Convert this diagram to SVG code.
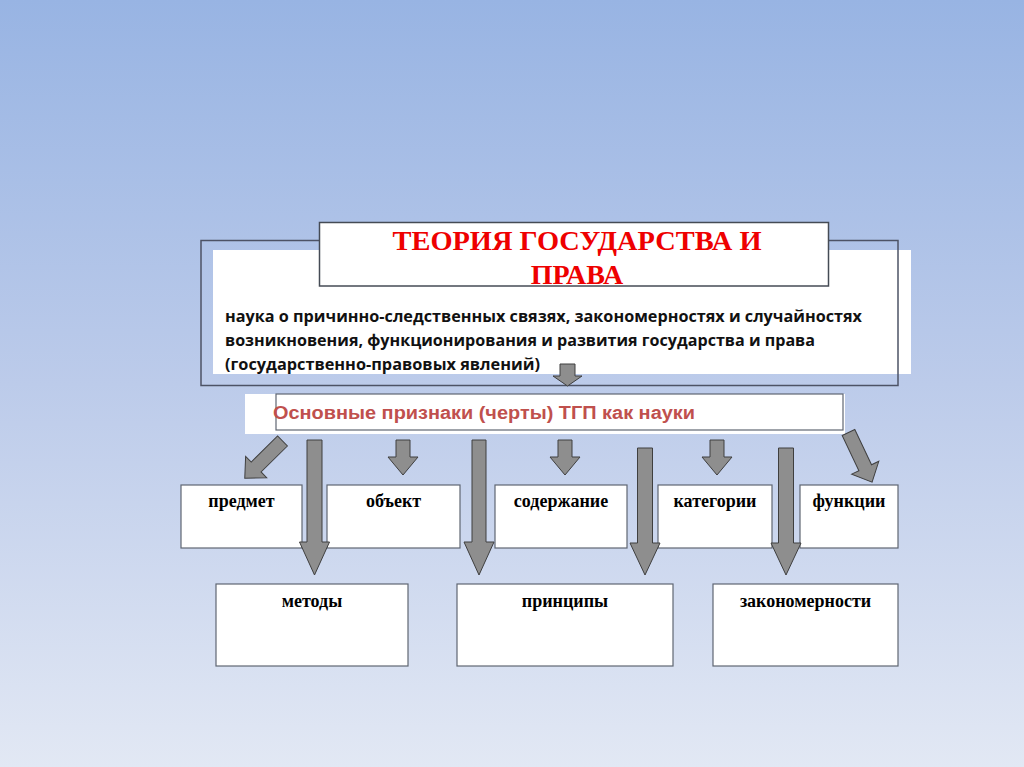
<svg xmlns="http://www.w3.org/2000/svg" width="1024" height="767" viewBox="0 0 1024 767">
<defs>
<linearGradient id="bg" x1="0" y1="0" x2="0" y2="1">
<stop offset="0" stop-color="#98b4e3"/>
<stop offset="0.5" stop-color="#bccbea"/>
<stop offset="1" stop-color="#e2e8f4"/>
</linearGradient>
</defs>
<style>
.box{fill:#ffffff;stroke:#5f6672;stroke-width:1.2}
.lbl{font-family:"Liberation Serif","Times New Roman",serif;font-weight:bold;font-size:18px;fill:#000;text-anchor:middle}
.arr{fill:#8e8e8e;stroke:#3f3f3f;stroke-width:1}
.body{font-family:"Open Sans","Noto Sans",sans-serif;font-weight:bold;font-size:16px;fill:#111}
</style>
<rect x="0" y="0" width="1024" height="767" fill="url(#bg)"/>

<g id="main">
<rect x="213" y="250" width="698" height="124" fill="#ffffff"/>
<rect x="201" y="240.5" width="697" height="145" fill="none" stroke="#4d5366" stroke-width="1.5"/>
<text class="body" x="225" y="322" textLength="637" lengthAdjust="spacingAndGlyphs">наука о причинно-следственных связях, закономерностях и случайностях</text>
<text class="body" x="225" y="346" textLength="590" lengthAdjust="spacingAndGlyphs">возникновения, функционирования и развития государства и права</text>
<text class="body" x="225" y="370" textLength="315" lengthAdjust="spacingAndGlyphs">(государственно-правовых явлений)</text>
</g>

<g id="title">
<rect x="319.5" y="222.5" width="509" height="63.5" fill="#ffffff" stroke="#454b55" stroke-width="1.5"/>
<text x="577" y="250" font-family="'Liberation Serif','Times New Roman',serif" font-weight="bold" font-size="28" fill="#ee0000" text-anchor="middle" textLength="369" lengthAdjust="spacingAndGlyphs">ТЕОРИЯ ГОСУДАРСТВА И</text>
<text x="577" y="284" font-family="'Liberation Serif','Times New Roman',serif" font-weight="bold" font-size="28" fill="#ee0000" text-anchor="middle">ПРАВА</text>
</g>

<g id="header">
<rect x="245" y="394" width="600" height="40" fill="#ffffff"/>
<rect x="276" y="394" width="567" height="36" fill="none" stroke="#5f6672" stroke-width="1.2"/>
<text x="273" y="419" font-family="'Liberation Sans',Arial,sans-serif" font-weight="bold" font-size="18" fill="#c0504d" textLength="422" lengthAdjust="spacingAndGlyphs">Основные признаки (черты) ТГП как науки</text>
</g>

<g id="predmet"><rect class="box" x="181" y="485" width="121" height="63"/><text class="lbl" x="241.5" y="507">предмет</text></g>
<g id="obekt"><rect class="box" x="327" y="485" width="133" height="63"/><text class="lbl" x="393.5" y="507">объект</text></g>
<g id="soderzhanie"><rect class="box" x="495" y="485" width="132" height="63"/><text class="lbl" x="561" y="507">содержание</text></g>
<g id="kategorii"><rect class="box" x="658" y="485" width="114" height="63"/><text class="lbl" x="715" y="507">категории</text></g>
<g id="funkcii"><rect class="box" x="800" y="485" width="98" height="63"/><text class="lbl" x="849" y="507">функции</text></g>

<g id="metody"><rect class="box" x="216" y="584" width="192" height="82"/><text class="lbl" x="312" y="607">методы</text></g>
<g id="principy"><rect class="box" x="457" y="584" width="216" height="82"/><text class="lbl" x="565" y="607">принципы</text></g>
<g id="zakonomernosti"><rect class="box" x="713" y="584" width="185" height="82"/><text class="lbl" x="805.5" y="607">закономерности</text></g>

<g id="connectors">
<path class="arr" d="M560,364 H575 V376 H582 L567.5,386 L553,376 H560 Z"/>
<path class="arr" transform="translate(282.5,441) rotate(135.4)" d="M0,-7 H37 V-15 L53,0 L37,15 V7 H0 Z"/>
<path class="arr" transform="translate(848.5,432.5) rotate(64.6)" d="M0,-7 H39 V-15 L55,0 L39,15 V7 H0 Z"/>
<path class="arr" d="M396,440 H410 V457 H418 L403,475 L388,457 H396 Z"/>
<path class="arr" d="M558,440 H572 V457 H580 L565,475 L550,457 H558 Z"/>
<path class="arr" d="M710,440 H724 V457 H732 L717,475 L702,457 H710 Z"/>
<path class="arr" d="M307,440 H322 V542 H329.5 L314.5,575 L299.5,542 H307 Z"/>
<path class="arr" d="M472,440 H486 V542 H494 L479,575 L464,542 H472 Z"/>
<path class="arr" d="M637.5,448 H652.5 V543 H660 L645,575 L630,543 H637.5 Z"/>
<path class="arr" d="M778.5,448 H793.5 V543 H801 L786,575 L771,543 H778.5 Z"/>
</g>
</svg>
